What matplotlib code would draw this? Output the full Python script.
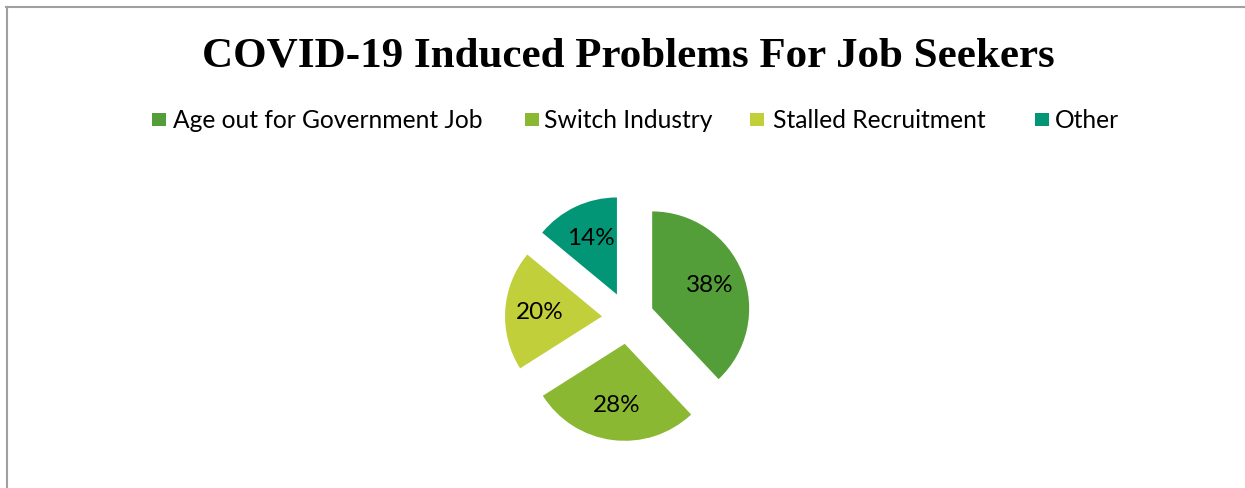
import matplotlib
matplotlib.use("Agg")
import matplotlib.pyplot as plt
from matplotlib.lines import Line2D
from matplotlib.patches import Rectangle

# ---- data ----
categories = ["Age out for Government Job", "Switch Industry", "Stalled Recruitment", "Other"]
values = [38, 28, 20, 14]
colors = ["#549E39", "#8AB833", "#C0CF3A", "#029676"]
title = "COVID-19 Induced Problems For Job Seekers"

W, H = 1245, 488
fig = plt.figure(figsize=(W / 100, H / 100), dpi=100)
fig.patch.set_facecolor("white")

ax = fig.add_axes([0, 0, 1, 1])
cx, cy_img = 628, 318
radius = 97
explode = [26] * len(values)
wedges, texts, autotexts = ax.pie(
    values, colors=colors, startangle=90, counterclock=False,
    radius=radius, center=(cx, H - cy_img), explode=explode,
    autopct=lambda p: f"{p:.0f}%", pctdistance=0.64,
    wedgeprops=dict(linewidth=0),
    textprops=dict(fontsize=17.5, family="Lato", color="black"),
)
ax.set_xlim(0, W)
ax.set_ylim(0, H)
ax.set_aspect("equal")
ax.axis("off")

# border (left and top)
fig.add_artist(Line2D([6.5 / W, 6.5 / W], [0, 1 - 6.5 / H], transform=fig.transFigure,
                      color="#A0A0A0", linewidth=1.5))
fig.add_artist(Line2D([6 / W, 1], [1 - 6.5 / H, 1 - 6.5 / H], transform=fig.transFigure,
                      color="#A0A0A0", linewidth=1.5))

# title
fig.text(628.5 / W, 1 - 66.5 / H, title, ha="center", va="baseline",
         fontsize=31, fontweight="bold", family="Liberation Serif", color="black")

# legend
sq_x = [152, 525, 750, 1035]
txt_x = [173, 544, 773, 1055]
for c, col, sx, tx in zip(categories, colors, sq_x, txt_x):
    fig.add_artist(Rectangle((sx / W, 1 - 126 / H), 14 / W, 13 / H, transform=fig.transFigure,
                             facecolor=col, edgecolor="none"))
    fig.text(tx / W, 1 - 128 / H, c, ha="left", va="baseline",
             fontsize=17.7, family="Lato", color="black")

fig.savefig("out.png", dpi=100, facecolor="white")
